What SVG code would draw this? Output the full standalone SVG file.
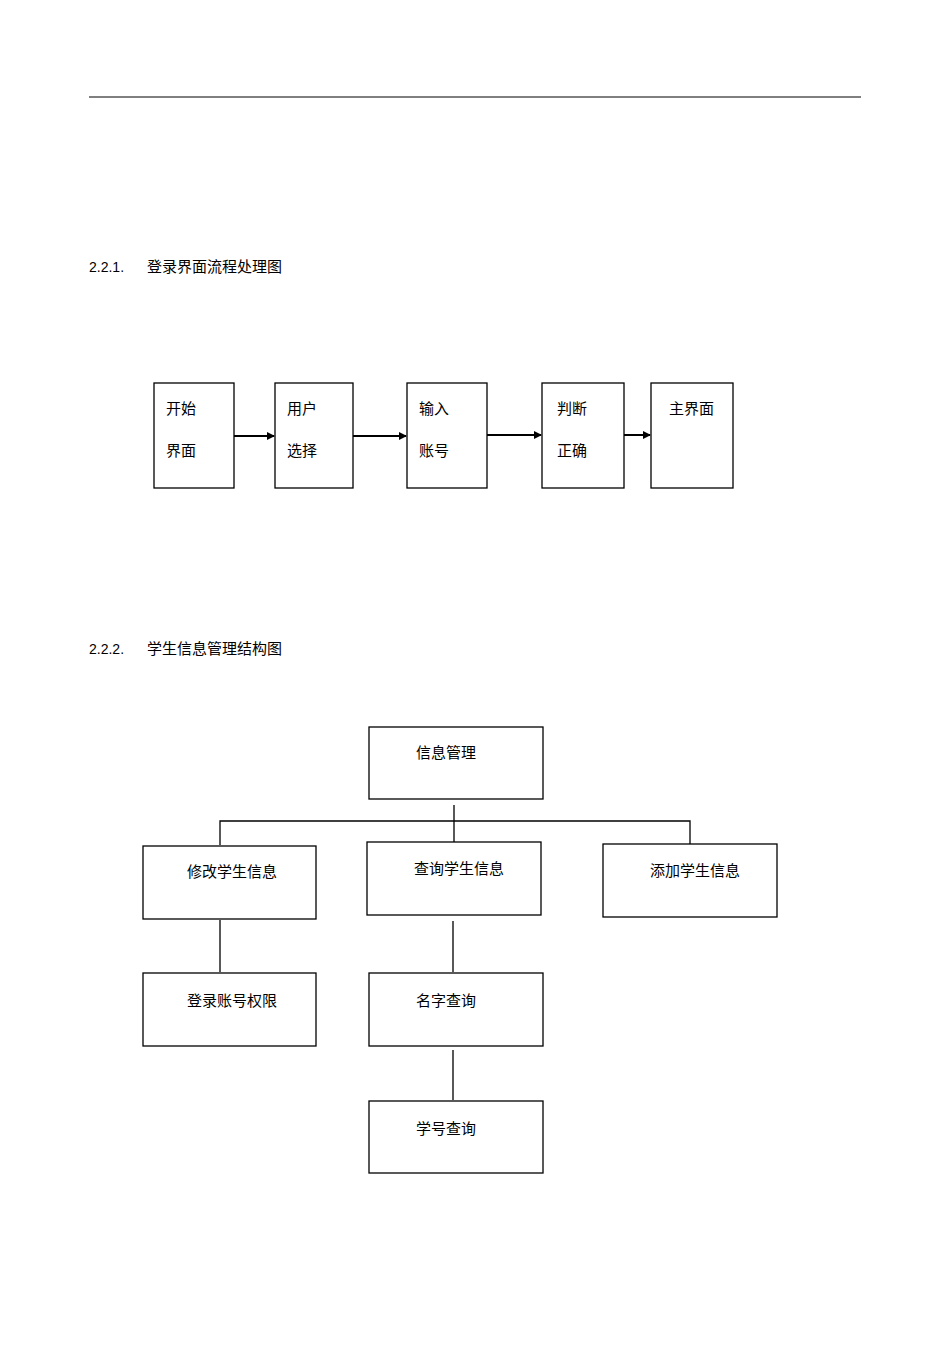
<svg xmlns="http://www.w3.org/2000/svg" width="950" height="1345" viewBox="0 0 950 1345">
<style>
text{font-family:"Liberation Sans","Noto Sans CJK SC",sans-serif;font-size:15px;fill:#000}
.b{fill:#fff;stroke:#000;stroke-width:1.3}
.c{stroke:#000;stroke-width:1.3;fill:none}
.a{stroke:#000;stroke-width:2;fill:none;marker-end:url(#ah)}
</style>
<defs><marker id="ah" markerWidth="8" markerHeight="8" refX="7" refY="4" orient="auto" markerUnits="userSpaceOnUse"><path d="M0,0L8,4L0,8z" fill="#000"/></marker></defs>
<rect width="950" height="1345" fill="#fff"/>
<line x1="89" y1="97" x2="861" y2="97" stroke="#000" stroke-width="1"/>
<text x="89" y="272" style="font-size:14px">2.2.1.</text><text x="147" y="272">登录界面流程处理图</text>
<text x="89" y="654" style="font-size:14px">2.2.2.</text><text x="147" y="654">学生信息管理结构图</text>
<g id="connectors">
<line class="a" x1="234" y1="436" x2="274" y2="436"/>
<line class="a" x1="353" y1="436" x2="406" y2="436"/>
<line class="a" x1="487" y1="435" x2="541" y2="435"/>
<line class="a" x1="624" y1="435" x2="650" y2="435"/>
<path class="c" d="M454,805V842M220,845V821H690V844M220,920V972M453,921V972M453,1050V1100"/>
</g>
<g id="n1"><rect class="b" x="154" y="383" width="80" height="105"/><text x="166" y="414">开始</text><text x="166" y="456">界面</text></g>
<g id="n2"><rect class="b" x="275" y="383" width="78" height="105"/><text x="287" y="414">用户</text><text x="287" y="456">选择</text></g>
<g id="n3"><rect class="b" x="407" y="383" width="80" height="105"/><text x="419" y="414">输入</text><text x="419" y="456">账号</text></g>
<g id="n4"><rect class="b" x="542" y="383" width="82" height="105"/><text x="557" y="414">判断</text><text x="557" y="456">正确</text></g>
<g id="n5"><rect class="b" x="651" y="383" width="82" height="105"/><text x="669" y="414">主界面</text></g>
<g id="m0"><rect class="b" x="369" y="727" width="174" height="72"/><text x="416" y="758">信息管理</text></g>
<g id="m1"><rect class="b" x="143" y="846" width="173" height="73"/><text x="187" y="877">修改学生信息</text></g>
<g id="m2"><rect class="b" x="367" y="842" width="174" height="73"/><text x="414" y="874">查询学生信息</text></g>
<g id="m3"><rect class="b" x="603" y="844" width="174" height="73"/><text x="650" y="876">添加学生信息</text></g>
<g id="m4"><rect class="b" x="143" y="973" width="173" height="73"/><text x="187" y="1006">登录账号权限</text></g>
<g id="m5"><rect class="b" x="369" y="973" width="174" height="73"/><text x="416" y="1006">名字查询</text></g>
<g id="m6"><rect class="b" x="369" y="1101" width="174" height="72"/><text x="416" y="1134">学号查询</text></g>
</svg>
